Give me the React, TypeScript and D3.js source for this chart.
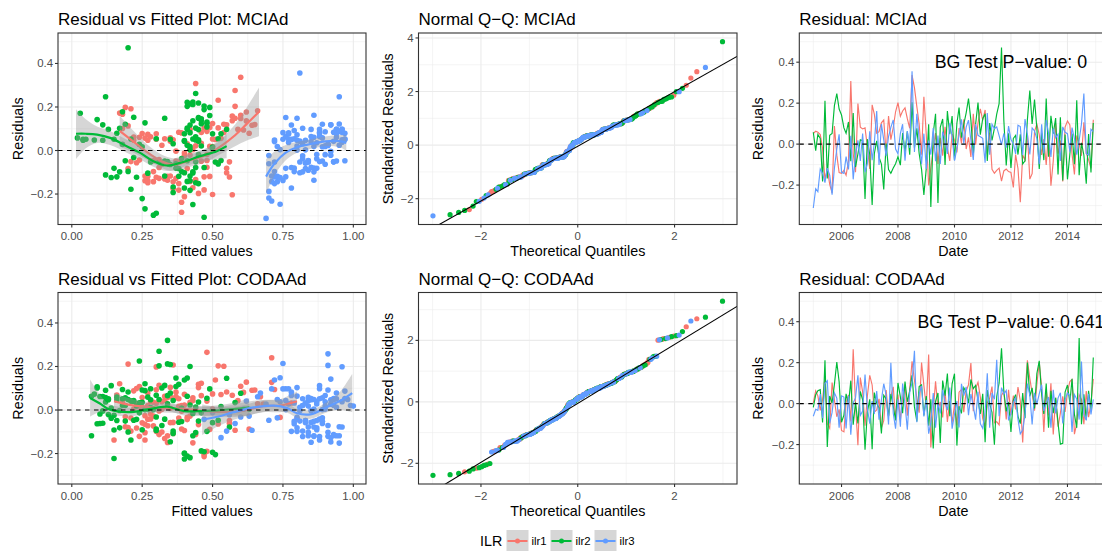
import React from "react";
import * as d3 from "d3";

const FONT = '"Liberation Sans", Arial, Helvetica, sans-serif';
const COLORS = ["#F8766D", "#00BA38", "#619CFF"];
const SERIES = ["ilr1", "ilr2", "ilr3"];
const GRID = "#EBEBEB";
const BORDER = "#333333";
const TICKTXT = "#4D4D4D";

// ---------- residuals (monthly, 2005-01 .. 2014-12) ----------
const mciaResidIlr1 = [
  0.052, 0.063, 0.058, 0.047, -0.021, -0.176, -0.118, -0.197, -0.238, 0.088, -0.054, -0.139,
  -0.143, -0.128, -0.152, -0.083, 0.308, -0.046, -0.137, 0.198, 0.083, 0.074, 0.079, -0.012,
  -0.121, 0.192, 0.147, 0.053, 0.061, 0.104, 0.118, -0.048, 0.137, 0.022, 0.081, 0.158,
  0.203, 0.136, 0.162, 0.177, 0.124, 0.077, 0.337, 0.276, 0.183, 0.098, -0.052, 0.231,
  0.047, -0.202, -0.117, -0.023, 0.054, -0.097, 0.031, -0.056, 0.084, -0.018, -0.082, 0.049,
  0.019, -0.041, 0.078, 0.004, 0.121, -0.024, 0.033, -0.063, 0.148, -0.003, 0.103, 0.172,
  0.116, 0.167, -0.047, 0.056, -0.123, -0.142, -0.128, -0.117, -0.181, -0.131, -0.122, -0.134,
  -0.138, -0.212, -0.051, -0.119, -0.284, -0.053, -0.078, 0.051, -0.171, -0.144, 0.062, 0.097,
  0.046, -0.053, 0.024, -0.102, 0.057, -0.203, -0.083, 0.101, -0.047, 0.018, -0.182, 0.083,
  0.113, 0.094, -0.049, -0.148, 0.042, 0.003, -0.057, 0.106, -0.044, -0.077, -0.118, 0.119,
];
const mciaResidIlr2 = [
  0.058, -0.032, 0.047, 0.028, -0.183, 0.212, -0.168, 0.043, 0.052, 0.188, 0.247, 0.171,
  0.142, 0.079, 0.053, 0.108, -0.083, 0.152, -0.112, -0.048, 0.021, 0.017, -0.268, 0.024,
  -0.052, -0.297, -0.047, 0.016, -0.064, -0.098, -0.221, 0.003, -0.124, -0.142, -0.117, -0.096,
  -0.061, -0.103, 0.054, -0.037, 0.063, -0.052, 0.204, -0.018, 0.077, -0.046, -0.123, -0.248,
  -0.118, 0.097, -0.307, 0.052, 0.148, -0.288, 0.082, 0.123, -0.102, 0.161, 0.048, 0.137,
  -0.078, 0.102, 0.178, 0.031, 0.096, 0.153, 0.222, 0.117, -0.053, 0.097, 0.203, 0.046,
  0.124, 0.148, -0.082, 0.103, 0.018, 0.077, 0.146, 0.198, 0.472, 0.118, -0.104, 0.053,
  -0.117, 0.028, 0.042, -0.051, 0.048, -0.097, -0.082, 0.121, 0.262, 0.098, 0.218, 0.077,
  -0.121, 0.054, -0.078, 0.223, -0.062, 0.138, 0.051, 0.127, -0.148, 0.131, -0.178, 0.047,
  -0.172, -0.047, 0.052, -0.098, 0.214, -0.152, 0.006, -0.053, -0.193, 0.049, -0.139, 0.103,
];
const mciaResidIlr3 = [
  -0.312, -0.218, -0.232, -0.121, -0.143, -0.188, -0.117, -0.152, -0.247, -0.118, -0.023, 0.048,
  -0.138, -0.143, -0.061, -0.124, 0.041, -0.172, -0.053, 0.018, -0.082, 0.052, -0.137, -0.097,
  0.063, -0.078, 0.004, 0.162, -0.102, 0.098, 0.021, -0.058, 0.037, 0.082, 0.118, -0.024,
  -0.047, 0.053, 0.097, -0.081, 0.064, -0.019, 0.356, -0.038, 0.148, 0.023, -0.098, 0.051,
  -0.121, 0.017, -0.052, 0.078, -0.083, 0.042, -0.097, 0.061, 0.024, -0.048, 0.102, 0.038,
  -0.081, -0.022, 0.047, 0.121, 0.003, 0.083, 0.117, 0.019, -0.077, 0.098, 0.043, 0.036,
  0.028, -0.091, 0.152, -0.052, 0.097, 0.076, 0.084, 0.041, -0.004, 0.053, -0.018, 0.088,
  0.022, 0.002, -0.048, 0.092, 0.086, -0.053, 0.122, 0.047, -0.051, 0.079, 0.064, 0.027,
  -0.098, 0.097, -0.046, 0.118, 0.054, -0.063, 0.077, 0.032, 0.049, -0.082, 0.084, 0.058,
  0.051, -0.038, 0.081, 0.026, -0.052, 0.018, 0.098, 0.247, -0.047, -0.053, 0.072, 0.061,
];
const codaResidIlr1 = [
  0.004, 0.062, 0.038, -0.033, 0.021, 0.128, -0.098, -0.121, 0.103, 0.017, -0.064, -0.028,
  -0.131, -0.138, 0.006, 0.042, -0.087, 0.265, -0.004, -0.203, 0.127, 0.057, -0.108, 0.036,
  0.138, 0.091, -0.041, -0.031, 0.023, -0.118, -0.083, 0.066, -0.061, 0.038, 0.082, -0.072,
  0.044, -0.081, 0.031, 0.094, -0.059, 0.071, 0.207, 0.114, 0.027, -0.044, 0.201, 0.088,
  -0.018, 0.24, -0.214, -0.037, 0.109, -0.026, 0.008, -0.067, 0.063, -0.089, 0.013, -0.093,
  -0.006, -0.107, 0.056, 0.069, -0.042, 0.061, 0.092, 0.198, -0.037, 0.074, 0.104, 0.032,
  -0.073, -0.112, 0.003, 0.028, 0.083, -0.094, -0.088, -0.104, 0.041, 0.058, -0.077, 0.068,
  -0.057, 0.039, -0.028, 0.081, 0.014, -0.19, 0.045, 0.211, 0.123, 0.052, -0.034, 0.093,
  0.203, 0.078, -0.138, 0.072, -0.058, 0.099, -0.151, 0.029, -0.113, -0.048, 0.035, -0.041,
  0.058, 0.108, 0.118, -0.149, -0.097, 0.043, 0.021, -0.101, 0.061, -0.066, 0.004, 0.121,
];
const codaResidIlr2 = [
  -0.018, 0.043, 0.063, 0.068, -0.092, 0.212, -0.212, 0.037, 0.003, 0.094, 0.203, 0.107,
  -0.091, -0.056, 0.048, -0.004, 0.112, -0.103, 0.006, -0.097, 0.059, 0.018, -0.225, -0.042,
  0.021, -0.223, 0.054, 0.002, -0.021, -0.146, 0.041, 0.023, -0.063, 0.047, -0.013, -0.082,
  0.101, 0.033, -0.047, 0.108, 0.009, 0.062, 0.138, -0.016, -0.087, 0.083, 0.092, -0.058,
  0.037, -0.108, 0.021, -0.219, 0.011, 0.052, -0.192, 0.113, 0.039, 0.147, -0.061, 0.097,
  0.146, -0.205, -0.013, -0.048, 0.078, 0.057, 0.002, 0.118, 0.073, 0.089, 0.014, -0.051,
  0.048, -0.188, 0.066, -0.002, -0.043, -0.201, 0.034, 0.101, 0.27, 0.059, -0.038, 0.008,
  -0.138, 0.016, 0.044, -0.062, -0.098, 0.052, -0.071, 0.2, 0.036, 0.077, -0.024, 0.147,
  0.209, 0.047, -0.051, 0.098, -0.118, 0.063, -0.047, 0.028, -0.094, -0.198, -0.194, 0.056,
  0.091, 0.003, 0.121, -0.053, -0.118, 0.32, -0.101, 0.046, -0.078, 0.062, -0.032, 0.225,
];
const codaResidIlr3 = [
  -0.062, -0.028, -0.033, 0.047, -0.071, 0.098, 0.112, -0.097, -0.043, 0.053, 0.027, -0.118,
  0.038, 0.032, -0.121, 0.038, -0.152, 0.004, 0.028, 0.138, -0.058, -0.036, 0.142, -0.022,
  -0.098, 0.013, -0.051, 0.061, -0.078, 0.018, 0.097, 0.042, -0.102, 0.199, -0.047, -0.122,
  0.021, -0.113, 0.098, -0.003, -0.127, 0.056, 0.103, 0.258, -0.091, 0.048, 0.087, -0.063,
  0.018, -0.147, -0.093, 0.052, -0.118, 0.002, -0.048, 0.067, 0.004, -0.032, 0.078, -0.122,
  -0.052, 0.013, -0.117, 0.097, 0.039, 0.082, -0.057, 0.047, -0.012, -0.078, 0.058, -0.098,
  -0.121, -0.041, 0.148, -0.118, 0.052, 0.021, 0.214, -0.062, 0.078, 0.047, 0.064, -0.082,
  -0.048, 0.004, 0.028, -0.077, -0.148, -0.128, -0.052, 0.098, 0.041, -0.102, 0.053, -0.003,
  0.048, 0.092, -0.036, 0.002, 0.032, -0.118, 0.067, -0.048, 0.027, 0.053, -0.097, 0.018,
  0.052, 0.038, -0.138, 0.044, 0.022, -0.078, 0.205, -0.052, -0.082, 0.048, -0.053, 0.021,
];

// ---------- fitted values ----------
const mciaFitIlr1 = [
  0.3, 0.28, 0.35, 0.22, 0.42, 0.36, 0.27, 0.45, 0.39, 0.48, 0.33, 0.26,
  0.29, 0.31, 0.38, 0.2, 0.44, 0.48, 0.34, 0.19, 0.46, 0.27, 0.63, 0.4,
  0.47, 0.21, 0.6, 0.5, 0.24, 0.52, 0.55, 0.37, 0.57, 0.44, 0.39, 0.57,
  0.58, 0.62, 0.6, 0.62, 0.5, 0.3, 0.6, 0.58, 0.66, 0.42, 0.56, 0.52,
  0.27, 0.5, 0.35, 0.45, 0.33, 0.29, 0.41, 0.23, 0.38, 0.48, 0.55, 0.36,
  0.49, 0.31, 0.25, 0.43, 0.54, 0.4, 0.46, 0.32, 0.58, 0.37, 0.47, 0.17,
  0.64, 0.18, 0.28, 0.53, 0.3, 0.42, 0.37, 0.26, 0.47, 0.33, 0.56, 0.44,
  0.27, 0.4, 0.21, 0.49, 0.39, 0.34, 0.31, 0.51, 0.43, 0.36, 0.22, 0.59,
  0.45, 0.38, 0.32, 0.55, 0.26, 0.57, 0.41, 0.18, 0.29, 0.5, 0.38, 0.54,
  0.2, 0.61, 0.46, 0.27, 0.35, 0.42, 0.52, 0.49, 0.24, 0.48, 0.34, 0.65,
];
const mciaFitIlr2 = [
  0.02, 0.22, 0.04, 0.18, 0.42, 0.43, 0.36, 0.4, 0.15, 0.47, 0.12, 0.03,
  0.09, 0.16, 0.21, 0.48, 0.38, 0.45, 0.12, 0.33, 0.46, 0.25, 0.26, 0.41,
  0.44, 0.29, 0.19, 0.5, 0.35, 0.17, 0.25, 0.42, 0.14, 0.41, 0.33, 0.2,
  0.37, 0.43, 0.52, 0.39, 0.44, 0.31, 0.47, 0.45, 0.4, 0.53, 0.23, 0.43,
  0.38, 0.55, 0.47, 0.05, 0.33, 0.3, 0.42, 0.46, 0.4, 0.49, 0.08, 0.43,
  0.44, 0.17, 0.18, 0.36, 0.45, 0.22, 0.41, 0.42, 0.51, 0.13, 0.41, 0.4,
  0.48, 0.45, 0.15, 0.44, 0.42, 0.53, 0.46, 0.49, 0.2, 0.11, 0.27, 0.43,
  0.42, 0.24, 0.45, 0.34, 0.44, 0.39, 0.37, 0.19, 0.44, 0.41, 0.45, 0.5,
  0.16, 0.3, 0.47, 0.43, 0.52, 0.46, 0.35, 0.26, 0.44, 0.48, 0.21, 0.11,
  0.4, 0.41, 0.04, 0.43, 0.42, 0.45, 0.5, 0.28, 0.36, 0.45, 0.42, 0.41,
];
const mciaFitIlr3 = [
  0.69, 0.7, 0.71, 0.72, 0.73, 0.7, 0.71, 0.72, 0.74, 0.73, 0.7, 0.72,
  0.75, 0.71, 0.7, 0.74, 0.72, 0.78, 0.72, 0.73, 0.76, 0.75, 0.86, 0.72,
  0.76, 0.78, 0.74, 0.86, 0.81, 0.94, 0.8, 0.83, 0.77, 0.75, 0.92, 0.82,
  0.84, 0.77, 0.85, 0.79, 0.88, 0.9, 0.81, 0.87, 0.8, 0.91, 0.82, 0.78,
  0.76, 0.89, 0.84, 0.88, 0.83, 0.93, 0.79, 0.86, 0.95, 0.89, 0.82, 0.96,
  0.86, 0.92, 0.8, 0.89, 0.83, 0.96, 0.78, 0.9, 0.85, 0.94, 0.81, 0.87,
  0.91, 0.84, 0.76, 0.93, 0.96, 0.77, 0.88, 0.85, 0.92, 0.97, 0.87, 0.95,
  0.9, 0.8, 0.94, 0.79, 0.9, 0.81, 0.95, 0.83, 0.88, 0.97, 0.85, 0.91,
  0.86, 0.88, 0.84, 0.92, 0.79, 0.9, 0.94, 0.82, 0.96, 0.87, 0.93, 0.89,
  0.97, 0.82, 0.77, 0.91, 0.93, 0.86, 0.96, 0.95, 0.97, 0.84, 0.8, 0.94,
];
const codaFitIlr1 = [
  0.22, 0.35, 0.18, 0.41, 0.27, 0.62, 0.3, 0.24, 0.45, 0.38, 0.52, 0.29,
  0.33, 0.26, 0.44, 0.21, 0.39, 0.48, 0.31, 0.47, 0.71, 0.25, 0.36, 0.42,
  0.51, 0.64, 0.28, 0.19, 0.4, 0.34, 0.23, 0.46, 0.56, 0.32, 0.37, 0.27,
  0.43, 0.2, 0.3, 0.72, 0.25, 0.53, 0.36, 0.31, 0.68, 0.41, 0.54, 0.22,
  0.28, 0.71, 0.47, 0.38, 0.6, 0.26, 0.35, 0.45, 0.33, 0.49, 0.24, 0.58,
  0.39, 0.31, 0.43, 0.16, 0.27, 0.37, 0.65, 0.3, 0.21, 0.5, 0.35, 0.78,
  0.29, 0.44, 0.32, 0.23, 0.55, 0.4, 0.63, 0.26, 0.48, 0.34, 0.19, 0.57,
  0.36, 0.28, 0.42, 0.61, 0.25, 0.48, 0.33, 0.2, 0.46, 0.38, 0.74, 0.3,
  0.52, 0.27, 0.15, 0.4, 0.35, 0.23, 0.43, 0.66, 0.31, 0.56, 0.29, 0.8,
  0.37, 0.24, 0.45, 0.34, 0.21, 0.59, 0.39, 0.32, 0.67, 0.26, 0.5, 0.17,
];
const codaFitIlr2 = [
  0.1, 0.22, 0.07, 0.3, 0.15, 0.34, 0.41, 0.12, 0.27, 0.18, 0.31, 0.09,
  0.25, 0.38, 0.2, 0.11, 0.14, 0.44, 0.29, 0.36, 0.16, 0.23, 0.4, 0.33,
  0.19, 0.15, 0.48, 0.26, 0.13, 0.35, 0.21, 0.42, 0.09, 0.28, 0.46, 0.17,
  0.32, 0.24, 0.52, 0.37, 0.14, 0.1, 0.4, 0.43, 0.3, 0.2, 0.25, 0.5,
  0.45, 0.36, 0.18, 0.42, 0.28, 0.13, 0.47, 0.33, 0.22, 0.41, 0.11, 0.49,
  0.55, 0.51, 0.24, 0.16, 0.35, 0.12, 0.29, 0.38, 0.08, 0.26, 0.44, 0.19,
  0.31, 0.46, 0.34, 0.17, 0.23, 0.4, 0.58, 0.09, 0.31, 0.27, 0.14, 0.39,
  0.21, 0.53, 0.36, 0.1, 0.48, 0.18, 0.32, 0.42, 0.25, 0.6, 0.15, 0.37,
  0.35, 0.13, 0.45, 0.28, 0.07, 0.41, 0.22, 0.34, 0.3, 0.4, 0.5, 0.19,
  0.12, 0.63, 0.26, 0.39, 0.43, 0.34, 0.2, 0.16, 0.56, 0.11, 0.3, 0.24,
];
const codaFitIlr3 = [
  0.58, 0.63, 0.8, 0.85, 0.91, 0.76, 0.88, 0.82, 0.47, 0.93, 0.69, 0.84,
  0.9, 0.79, 0.86, 0.74, 0.95, 0.61, 0.87, 0.72, 0.83, 0.89, 0.92, 0.56,
  0.78, 0.94, 0.81, 0.66, 0.86, 1.0, 0.75, 0.84, 0.91, 0.96, 0.7, 0.88,
  0.82, 0.93, 0.77, 0.85, 0.53, 0.89, 0.8, 0.91, 0.87, 0.73, 0.97, 0.79,
  0.84, 0.92, 0.64, 0.88, 0.95, 0.76, 0.83, 0.9, 0.86, 0.6, 0.94, 0.82,
  0.89, 0.81, 0.93, 0.71, 0.87, 0.78, 0.85, 0.92, 0.5, 0.96, 0.84, 0.8,
  0.91, 0.88, 0.74, 0.86, 0.94, 0.82, 0.75, 0.89, 0.67, 0.93, 0.8, 0.87,
  0.83, 0.9, 0.77, 0.95, 0.85, 0.92, 0.79, 0.88, 0.62, 0.84, 0.97, 0.81,
  0.86, 0.91, 0.73, 0.89, 0.83, 0.94, 0.78, 0.87, 0.92, 0.85, 0.55, 0.9,
  0.82, 0.96, 0.88, 0.76, 0.93, 0.84, 0.91, 0.86, 0.8, 0.98, 0.89, 0.99,
];

// ---------- loess smooths: [fitted, fit, lower, upper] ----------
const mciaSmoothIlr1 = [
  [0.17, 0.09, 0.02, 0.16], [0.22, 0.04, -0.01, 0.09], [0.27, -0.01, -0.045, 0.025],
  [0.32, -0.05, -0.08, -0.02], [0.36, -0.065, -0.095, -0.035], [0.42, -0.045, -0.075, -0.015],
  [0.48, -0.02, -0.05, 0.01], [0.53, 0.02, -0.015, 0.055], [0.58, 0.07, 0.02, 0.12],
  [0.62, 0.12, 0.045, 0.195], [0.665, 0.178, 0.065, 0.29],
];
const mciaSmoothIlr2 = [
  [0.015, 0.077, -0.04, 0.19], [0.05, 0.077, 0.01, 0.144], [0.09, 0.073, 0.035, 0.11],
  [0.136, 0.058, 0.025, 0.09], [0.195, 0.02, -0.01, 0.05], [0.243, -0.011, -0.04, 0.018],
  [0.29, -0.049, -0.075, -0.023], [0.337, -0.069, -0.094, -0.044], [0.385, -0.057, -0.08, -0.034],
  [0.456, -0.026, -0.05, -0.002], [0.515, -0.003, -0.04, 0.034], [0.55, 0.02, -0.035, 0.075],
];
const mciaSmoothIlr3 = [
  [0.69, -0.12, -0.2, -0.04], [0.72, -0.06, -0.115, -0.005], [0.76, -0.01, -0.045, 0.025],
  [0.8, 0.015, -0.01, 0.04], [0.85, 0.03, 0.008, 0.052], [0.9, 0.042, 0.02, 0.064],
  [0.95, 0.043, 0.015, 0.071], [0.975, 0.035, 0.0, 0.07],
];
const codaSmoothIlr1 = [
  [0.15, 0.04, 0.0, 0.08], [0.2, 0.025, -0.005, 0.055], [0.3, 0.01, -0.01, 0.03],
  [0.4, 0.005, -0.015, 0.025], [0.5, -0.008, -0.03, 0.014], [0.6, -0.005, -0.03, 0.02],
  [0.68, 0.018, -0.01, 0.046], [0.74, 0.02, -0.01, 0.05], [0.8, 0.04, -0.005, 0.085],
];
const codaSmoothIlr2 = [
  [0.065, 0.055, -0.03, 0.14], [0.1, 0.03, -0.01, 0.07], [0.13, 0.005, -0.02, 0.03],
  [0.2, -0.01, -0.03, 0.01], [0.26, 0.0, -0.02, 0.02], [0.3, 0.01, -0.01, 0.03],
  [0.34, 0.015, -0.005, 0.035], [0.4, -0.005, -0.025, 0.015], [0.5, -0.003, -0.025, 0.02],
  [0.58, 0.005, -0.025, 0.035], [0.63, 0.012, -0.03, 0.055],
];
const codaSmoothIlr3 = [
  [0.463, -0.045, -0.115, 0.025], [0.52, -0.03, -0.075, 0.015], [0.575, -0.01, -0.045, 0.025],
  [0.646, 0.012, -0.018, 0.042], [0.718, 0.02, -0.005, 0.045], [0.765, 0.009, -0.013, 0.031],
  [0.8, -0.015, -0.035, 0.005], [0.848, -0.02, -0.04, 0.0], [0.907, 0.014, -0.01, 0.038],
  [0.95, 0.04, 0.0, 0.08], [0.996, 0.078, -0.01, 0.166],
];

// ---------- tick labels / annotations ----------
const fittedTicks = [0, 0.25, 0.5, 0.75, 1.0];
const residTicks = [-0.2, 0, 0.2, 0.4];
const qqXTicks = [-2, 0, 2];
const yearTicks = [2006, 2008, 2010, 2012, 2014];
const bgLabels = ["BG Test P\u2212value: 0", "BG Test P\u2212value: 0.641"];
const modelNames = ["MCIAd", "CODAAd"];

const dates = d3.timeMonth.range(new Date(2005, 0, 1), new Date(2015, 0, 1));

// ---------- layout ----------
const ROWS = [
  { top: 33, bottom: 224.5 },
  { top: 292.5, bottom: 484 },
];
const COLS = [
  { left: 58, right: 366, yTitleX: 22.7 },
  { left: 418.5, right: 737, yTitleX: 393.3 },
  { left: 799.3, right: 1107.3, yTitleX: 763.3 },
];

const minus = (s: string) => s.replace(/-/g, "\u2212");

function qnorm(p: number): number {
  const a = [-3.969683028665376e1, 2.209460984245205e2, -2.759285104469687e2, 1.38357751867269e2, -3.066479806614716e1, 2.506628277459239];
  const b = [-5.447609879822406e1, 1.615858368580409e2, -1.556989798598866e2, 6.680131188771972e1, -1.328068155288572e1];
  const c = [-7.784894002430293e-3, -3.223964580411365e-1, -2.400758277161838, -2.549732539343734, 4.374664141464968, 2.938163982698783];
  const d = [7.784695709041462e-3, 3.224671290700398e-1, 2.445134137142996, 3.7544083727665];
  const plow = 0.02425;
  if (p < plow) {
    const q = Math.sqrt(-2 * Math.log(p));
    return (((((c[0] * q + c[1]) * q + c[2]) * q + c[3]) * q + c[4]) * q + c[5]) / ((((d[0] * q + d[1]) * q + d[2]) * q + d[3]) * q + 1);
  }
  if (p <= 1 - plow) {
    const q = p - 0.5;
    const r = q * q;
    return ((((((a[0] * r + a[1]) * r + a[2]) * r + a[3]) * r + a[4]) * r + a[5]) * q) / (((((b[0] * r + b[1]) * r + b[2]) * r + b[3]) * r + b[4]) * r + 1);
  }
  const q = Math.sqrt(-2 * Math.log(1 - p));
  return -(((((c[0] * q + c[1]) * q + c[2]) * q + c[3]) * q + c[4]) * q + c[5]) / ((((d[0] * q + d[1]) * q + d[2]) * q + d[3]) * q + 1);
}

type Rect = { left: number; right: number; top: number; bottom: number };

function Frame(props: any) {
  const { r, xs, ys, xMajor, xMinor, yMajor, yMinor, xFmt, yFmt, title, xTitle, yTitle, yTitleX, clipId, children } = props;
  const { left, right, top, bottom } = r as Rect;
  return (
    <g>
      <defs>
        <clipPath id={clipId}>
          <rect x={left} y={top} width={right - left} height={bottom - top} />
        </clipPath>
      </defs>
      <rect x={left} y={top} width={right - left} height={bottom - top} fill="#fff" />
      <g clipPath={`url(#${clipId})`}>
        {xMinor.map((v: any) => (
          <line key={"xm" + +v} x1={xs(v)} x2={xs(v)} y1={top} y2={bottom} stroke={GRID} strokeWidth={0.55} />
        ))}
        {yMinor.map((v: number) => (
          <line key={"ym" + v} x1={left} x2={right} y1={ys(v)} y2={ys(v)} stroke={GRID} strokeWidth={0.55} />
        ))}
        {xMajor.map((v: any) => (
          <line key={"xM" + +v} x1={xs(v)} x2={xs(v)} y1={top} y2={bottom} stroke={GRID} strokeWidth={1.1} />
        ))}
        {yMajor.map((v: number) => (
          <line key={"yM" + v} x1={left} x2={right} y1={ys(v)} y2={ys(v)} stroke={GRID} strokeWidth={1.1} />
        ))}
        {children}
      </g>
      <rect x={left} y={top} width={right - left} height={bottom - top} fill="none" stroke={BORDER} strokeWidth={1.1} />
      {xMajor.map((v: any) => (
        <g key={"xt" + +v}>
          <line x1={xs(v)} x2={xs(v)} y1={bottom} y2={bottom + 3} stroke={BORDER} strokeWidth={1.1} />
          <text x={xs(v)} y={bottom + 15.8} textAnchor="middle" fontSize={11.4} fill={TICKTXT} fontFamily={FONT}>
            {xFmt(v)}
          </text>
        </g>
      ))}
      {yMajor.map((v: number) => (
        <g key={"yt" + v}>
          <line x1={left - 3} x2={left} y1={ys(v)} y2={ys(v)} stroke={BORDER} strokeWidth={1.1} />
          <text x={left - 5} y={ys(v)} dy="0.35em" textAnchor="end" fontSize={11.4} fill={TICKTXT} fontFamily={FONT}>
            {yFmt(v)}
          </text>
        </g>
      ))}
      <text x={left} y={top - 8} fontSize={17} fill="#000" fontFamily={FONT}>
        {title}
      </text>
      <text x={(left + right) / 2} y={bottom + 31.5} textAnchor="middle" fontSize={14.3} fill="#000" fontFamily={FONT}>
        {xTitle}
      </text>
      <text
        transform={`translate(${yTitleX},${(top + bottom) / 2}) rotate(-90)`}
        textAnchor="middle"
        fontSize={14.3}
        fill="#000"
        fontFamily={FONT}
      >
        {yTitle}
      </text>
    </g>
  );
}

function ScatterPanel({ row, resid, fitted, smooth, model }: any) {
  const r = { ...COLS[0], ...ROWS[row] };
  const xs = d3.scaleLinear().domain([-0.049, 1.045]).range([r.left, r.right]);
  const ys = d3.scaleLinear().domain([-0.34, 0.54]).range([r.bottom, r.top]);
  const area = d3
    .area<number[]>()
    .x((d) => xs(d[0]))
    .y0((d) => ys(d[2]))
    .y1((d) => ys(d[3]))
    .curve(d3.curveCatmullRom);
  const line = d3
    .line<number[]>()
    .x((d) => xs(d[0]))
    .y((d) => ys(d[1]))
    .curve(d3.curveCatmullRom);
  return (
    <Frame
      r={r}
      xs={xs}
      ys={ys}
      xMajor={fittedTicks}
      xMinor={[0.125, 0.375, 0.625, 0.875]}
      yMajor={residTicks}
      yMinor={[-0.3, -0.1, 0.1, 0.3, 0.5]}
      xFmt={(v: number) => d3.format(".2f")(v)}
      yFmt={(v: number) => minus(d3.format(".1f")(v))}
      title={"Residual vs Fitted Plot: " + model}
      xTitle="Fitted values"
      yTitle="Residuals"
      yTitleX={COLS[0].yTitleX}
      clipId={"clipS" + row}
    >
      {resid.map((arr: number[], g: number) =>
        arr.map((v, i) => <circle key={g + "-" + i} cx={xs(fitted[g][i])} cy={ys(v)} r={2.8} fill={COLORS[g]} />)
      )}
      {smooth.map((s: number[][], g: number) => (
        <g key={"sm" + g}>
          <path d={area(s) as string} fill="#999999" fillOpacity={0.4} />
          <path d={line(s) as string} fill="none" stroke={COLORS[g]} strokeWidth={2.2} />
        </g>
      ))}
      <line x1={r.left} x2={r.right} y1={ys(0)} y2={ys(0)} stroke="#000" strokeWidth={1.1} strokeDasharray="4.5,4.5" />
    </Frame>
  );
}

function QQPanel({ row, resid, model }: any) {
  const r = { ...COLS[1], ...ROWS[row] };
  const all: { v: number; g: number; idx: number; s?: number; t?: number }[] = [];
  resid.forEach((arr: number[], g: number) => arr.forEach((v) => all.push({ v, g, idx: all.length })));
  const mean = d3.mean(all, (d) => d.v) as number;
  const sd = d3.deviation(all, (d) => d.v) as number;
  all.forEach((d) => (d.s = (d.v - mean) / sd));
  const sorted = all.slice().sort((a, b) => (a.s as number) - (b.s as number));
  const n = sorted.length;
  sorted.forEach((d, i) => (d.t = qnorm((i + 0.5) / n)));
  const sVals = sorted.map((d) => d.s as number);
  const q1 = d3.quantile(sVals, 0.25) as number;
  const q3 = d3.quantile(sVals, 0.75) as number;
  const slope = (q3 - q1) / (qnorm(0.75) - qnorm(0.25));
  const intercept = q1 - slope * qnorm(0.25);
  const tExt = d3.extent(sorted, (d) => d.t as number) as [number, number];
  const sExt = d3.extent(sVals) as [number, number];
  const tPad = (tExt[1] - tExt[0]) * 0.05;
  const sPad = (sExt[1] - sExt[0]) * 0.05;
  const xs = d3.scaleLinear().domain([tExt[0] - tPad, tExt[1] + tPad]).range([r.left, r.right]);
  const ys = d3.scaleLinear().domain([sExt[0] - sPad, sExt[1] + sPad]).range([r.bottom, r.top]);
  const [y0, y1] = ys.domain();
  const yMajor = [-4, -2, 0, 2, 4, 6].filter((v) => v >= y0 && v <= y1);
  const yMinor = [-5, -3, -1, 1, 3, 5].filter((v) => v >= y0 && v <= y1);
  const [x0, x1] = xs.domain();
  return (
    <Frame
      r={r}
      xs={xs}
      ys={ys}
      xMajor={qqXTicks}
      xMinor={[-3, -1, 1, 3]}
      yMajor={yMajor}
      yMinor={yMinor}
      xFmt={(v: number) => minus(String(v))}
      yFmt={(v: number) => minus(String(v))}
      title={"Normal Q\u2212Q: " + model}
      xTitle="Theoretical Quantiles"
      yTitle="Standardized Residuals"
      yTitleX={COLS[1].yTitleX}
      clipId={"clipQ" + row}
    >
      {all.map((d) => (
        <circle key={d.idx} cx={xs(d.t as number)} cy={ys(d.s as number)} r={2.6} fill={COLORS[d.g]} />
      ))}
      <line
        x1={xs(x0)}
        x2={xs(x1)}
        y1={ys(intercept + slope * x0)}
        y2={ys(intercept + slope * x1)}
        stroke="#000"
        strokeWidth={1.1}
      />
    </Frame>
  );
}

function TimePanel({ row, resid, model, label }: any) {
  const r = { ...COLS[2], ...ROWS[row] };
  const ext = d3.extent(dates) as [Date, Date];
  const pad = (+ext[1] - +ext[0]) * 0.05;
  const xs = d3.scaleTime().domain([new Date(+ext[0] - pad), new Date(+ext[1] + pad)]).range([r.left, r.right]);
  const ys = d3.scaleLinear().domain([-0.3925, 0.5425]).range([r.bottom, r.top]);
  const line = d3
    .line<number>()
    .x((_, i) => xs(dates[i]))
    .y((v) => ys(v));
  const majors = yearTicks.map((y) => new Date(y, 0, 1));
  const minors = [2005, 2007, 2009, 2011, 2013, 2015].map((y) => new Date(y, 0, 1));
  return (
    <Frame
      r={r}
      xs={xs}
      ys={ys}
      xMajor={majors}
      xMinor={minors}
      yMajor={residTicks}
      yMinor={[-0.3, -0.1, 0.1, 0.3, 0.5]}
      xFmt={(v: Date) => String(v.getFullYear())}
      yFmt={(v: number) => minus(d3.format(".1f")(v))}
      title={"Residual: " + model}
      xTitle="Date"
      yTitle="Residuals"
      yTitleX={COLS[2].yTitleX}
      clipId={"clipT" + row}
    >
      {resid.map((arr: number[], g: number) => (
        <path key={g} d={line(arr) as string} fill="none" stroke={COLORS[g]} strokeWidth={1.15} />
      ))}
      <line x1={r.left} x2={r.right} y1={ys(0)} y2={ys(0)} stroke="#000" strokeWidth={1.1} strokeDasharray="4.5,4.5" />
      <text x={xs(new Date(2012, 0, 1))} y={ys(0.4)} dy="0.35em" textAnchor="middle" fontSize={17.8} fill="#000" fontFamily={FONT}>
        {label}
      </text>
    </Frame>
  );
}

function Legend() {
  const keyW = 22;
  const keyY = 530;
  const keyH = 22;
  const starts = [506.5, 550.5, 594.5];
  return (
    <g fontFamily={FONT}>
      <text x={480} y={keyY + keyH / 2} dy="0.35em" fontSize={14.3} fill="#000">
        ILR
      </text>
      {SERIES.map((s, i) => (
        <g key={s}>
          <rect x={starts[i]} y={keyY} width={keyW} height={keyH} fill="#D6D6D6" />
          <line x1={starts[i] + 1} x2={starts[i] + keyW - 1} y1={keyY + keyH / 2} y2={keyY + keyH / 2} stroke={COLORS[i]} strokeWidth={2} />
          <circle cx={starts[i] + keyW / 2} cy={keyY + keyH / 2} r={2.5} fill={COLORS[i]} />
          <text x={starts[i] + keyW + 3} y={keyY + keyH / 2} dy="0.35em" fontSize={11.4} fill="#000">
            {s}
          </text>
        </g>
      ))}
    </g>
  );
}

export default function App() {
  const mciaResid = [mciaResidIlr1, mciaResidIlr2, mciaResidIlr3];
  const codaResid = [codaResidIlr1, codaResidIlr2, codaResidIlr3];
  const mciaFit = [mciaFitIlr1, mciaFitIlr2, mciaFitIlr3];
  const codaFit = [codaFitIlr1, codaFitIlr2, codaFitIlr3];
  const mciaSmooth = [mciaSmoothIlr1, mciaSmoothIlr2, mciaSmoothIlr3];
  const codaSmooth = [codaSmoothIlr1, codaSmoothIlr2, codaSmoothIlr3];
  return (
    <svg width={1102} height={551} style={{ display: "block", position: "absolute", left: 0, top: 0, background: "#fff" }}>
      <rect x={0} y={0} width={1102} height={551} fill="#fff" />
      <ScatterPanel row={0} resid={mciaResid} fitted={mciaFit} smooth={mciaSmooth} model={modelNames[0]} />
      <QQPanel row={0} resid={mciaResid} model={modelNames[0]} />
      <TimePanel row={0} resid={mciaResid} model={modelNames[0]} label={bgLabels[0]} />
      <ScatterPanel row={1} resid={codaResid} fitted={codaFit} smooth={codaSmooth} model={modelNames[1]} />
      <QQPanel row={1} resid={codaResid} model={modelNames[1]} />
      <TimePanel row={1} resid={codaResid} model={modelNames[1]} label={bgLabels[1]} />
      <Legend />
    </svg>
  );
}
